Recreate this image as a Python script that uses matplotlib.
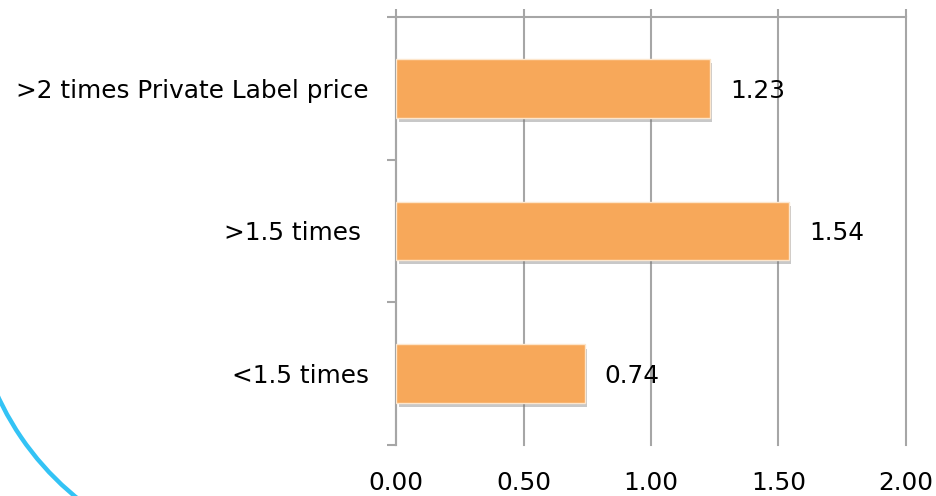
import matplotlib
matplotlib.use("Agg")
import matplotlib.pyplot as plt
from matplotlib.patches import Arc
import matplotlib.patheffects as pe

categories = [">2 times Private Label price", ">1.5 times ", "<1.5 times"]
values = [1.23, 1.54, 0.74]
xticks = [0.0, 0.5, 1.0, 1.5, 2.0]
xtick_labels = ["0.00", "0.50", "1.00", "1.50", "2.00"]

plt.rcParams['font.family'] = ['DejaVu Sans']
FS = 17.8
GRID = '#A6A6A6'
BAR = '#F7A85A'

fig = plt.figure(figsize=(9.36, 4.96), dpi=100)
ax = fig.add_axes([396/936, 51/496, 510/936, 428/496])

n = len(categories)
ypos = [n - 1 - i for i in range(n)]
bars = ax.barh(ypos, values, height=0.41, color=BAR, edgecolor='#FDE6CC', linewidth=1.0, zorder=3)
for b in bars:
    b.set_path_effects([pe.SimplePatchShadow(offset=(2, -3), shadow_rgbFace='#777777', alpha=0.4),
                        pe.Normal()])

for y, v in zip(ypos, values):
    ax.annotate(f"{v:.2f}", xy=(v, y), xytext=(14.5, 0), textcoords='offset points',
                ha='left', va='center_baseline', fontsize=FS, color='black', zorder=5)

ax.set_xlim(0, 2.0)
ax.set_ylim(-0.5, n - 0.5)

ax.set_xticks(xticks)
ax.set_xticklabels(xtick_labels, fontsize=FS)
ax.xaxis.grid(True, color=GRID, linewidth=1.5, zorder=0)
for gl in ax.get_xgridlines():
    gl.set_clip_on(False)
ax.tick_params(axis='x', which='major', top=True, bottom=False, labeltop=False, labelbottom=True,
               direction='out', length=6, width=1.5, color=GRID, pad=12.5)

ax.set_yticks([i - 0.5 for i in range(n + 1)])
ax.set_yticklabels([])
ax.set_yticks(ypos, minor=True)
ax.set_yticklabels(categories, minor=True, fontsize=FS)
ax.tick_params(axis='y', which='major', left=True, direction='out', length=6.5, width=1.5, color=GRID)
ax.tick_params(axis='y', which='minor', left=False, length=0, pad=19.5)

for s in ['right', 'bottom']:
    ax.spines[s].set_visible(False)
for s in ['top', 'left']:
    ax.spines[s].set_color(GRID)
    ax.spines[s].set_linewidth(1.5)

# decorative arc at bottom-left of the slide
arc = Arc((255 / 936, 218 / 496), 2 * 283 / 936, 2 * 283 / 496, theta1=190, theta2=255,
          transform=fig.transFigure, color='#33C3F5', linewidth=3.2, zorder=10)
fig.add_artist(arc)

fig.savefig('out.png', dpi=100)
